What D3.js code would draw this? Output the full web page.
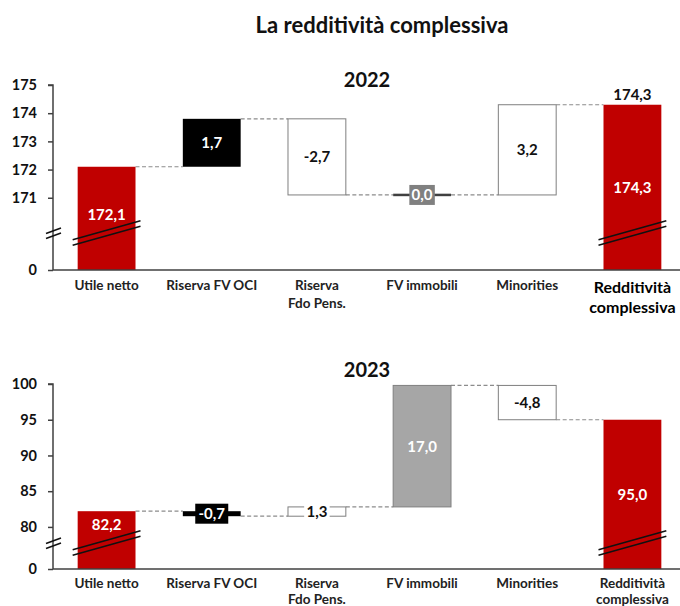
<!DOCTYPE html>
<html><head><meta charset="utf-8">
<script src="https://cdn.jsdelivr.net/npm/d3@7"></script>
<style>
body{margin:0;background:#fff;}
svg text{font-family:Lato,"Open Sans",sans-serif;font-weight:bold;}
</style></head>
<body><svg id="c" width="680" height="606"></svg>
<script>
const categories = ["Utile netto","Riserva FV OCI","Riserva|Fdo Pens.","FV immobili","Minorities","Redditività|complessiva"];
const kinds = ["total","oci","delta","immobili","delta","total"];
const values2022 = [172.1, 1.7, -2.7, 0.0, 3.2, 174.3];
const values2023 = [82.2, -0.7, 1.3, 17.0, -4.8, 95.0];
const ticks2022 = [0,171,172,173,174,175];
const ticks2023 = [0,80,85,90,95,100];
const chartTitle = "La redditività complessiva";
const years = ["2022","2023"];

const svg = d3.select("#c");
const fmt = v => d3.format(".1f")(v).replace(".", ",").replace("\u2212","-");
const RED = "#c00000";

svg.append("text").attr("x",382).attr("y",33).attr("text-anchor","middle")
  .attr("font-size",22).attr("fill","#111").text(chartTitle);

const x = d3.scaleBand().domain(categories).range([54,685]).paddingInner(0.45).paddingOuter(0.225);

function drawChart(cfg){
  const g = svg.append("g");
  const values = cfg.values;
  const breakVal = cfg.breakVal;
  const y = d3.scaleLinear().domain([0, breakVal, cfg.ticks[cfg.ticks.length-1]])
    .range([cfg.zeroY, cfg.breakY, cfg.topY]);

  g.append("text").attr("x",367).attr("y",cfg.yearY).attr("text-anchor","middle")
    .attr("font-size",20).attr("fill","#111").text(cfg.year);

  const segs = [];
  let run = values[0];
  values.forEach((v,i)=>{
    if(kinds[i]==="total"){ segs.push({i,v,lo:0,hi:v,end:v}); run = v; }
    else { const s=run, e=run+v; segs.push({i,v,lo:Math.min(s,e),hi:Math.max(s,e),end:e}); run=e; }
  });

  for(let k=0;k<segs.length-1;k++){
    const lvl = segs[k].end;
    g.append("line")
      .attr("x1", x(categories[k])+x.bandwidth()).attr("x2", x(categories[k+1]))
      .attr("y1", y(lvl)).attr("y2", y(lvl))
      .attr("stroke","#8c8c8c").attr("stroke-width",1.2).attr("stroke-dasharray","4,2.5");
  }

  const ax = g.append("g").attr("transform",`translate(53,0)`)
    .call(d3.axisLeft(y).tickValues(cfg.ticks).tickSize(5).tickPadding(11).tickFormat(d3.format("d")));
  ax.select(".domain").attr("stroke","#404040").attr("stroke-width",1.5).attr("d",`M-5,${cfg.topY}H0V${cfg.zeroY}`);
  ax.selectAll(".tick line").attr("stroke","#404040").attr("stroke-width",1.5);
  ax.selectAll(".tick text").attr("font-size",14.5).attr("fill","#111").attr("font-family","Lato, sans-serif").attr("font-weight","bold");

  segs.forEach(s=>{
    const k = kinds[s.i];
    const bx = x(categories[s.i]), bw = x.bandwidth();
    let y0 = y(s.hi), h = Math.max(y(s.lo)-y(s.hi), 0);
    let fill, stroke=null;
    if(k==="total") fill = RED;
    else if(k==="oci") fill = "#000";
    else if(k==="delta"){ fill="#fff"; stroke="#7f7f7f"; }
    else { fill = (h<3) ? "#404040" : "#a6a6a6"; stroke = (h<3)? null : "#7f7f7f"; }
    if(h<2.5){ y0 = y(s.hi)-1.25; h = 2.5; }
    const r = g.append("rect").attr("x",bx).attr("y",y0).attr("width",bw).attr("height",h).attr("fill",fill);
    if(stroke) r.attr("stroke",stroke).attr("stroke-width",1);

    let ly, txtColor, boxFill=null;
    const cx = bx+bw/2;
    if(k==="total"){
      ly = Math.min((y(s.hi)+cfg.zeroY)/2, cfg.breakY-18);
      txtColor="#fff";
    } else {
      ly = (y(s.hi)+y(s.lo))/2;
      txtColor = k==="delta" ? "#111" : "#fff";
      if(h<16){ boxFill = k==="oci" ? "#000" : k==="delta" ? "#fff" : "#808080"; }
    }
    const label = fmt(s.v);
    if(boxFill){
      const w = label.length*7.5+3;
      g.append("rect").attr("x",cx-w/2).attr("y",ly-10).attr("width",w).attr("height",20).attr("fill",boxFill);
    }
    g.append("text").attr("x",cx).attr("y",ly).attr("dy","0.36em").attr("text-anchor","middle")
      .attr("font-size",15).attr("fill",txtColor).text(label);

    if(k==="total"){
      [-2.8,2.8].forEach(off=>{
        g.append("line").attr("x1",bx-5).attr("x2",bx+bw+5)
          .attr("y1",cfg.breakY+off+9.5).attr("y2",cfg.breakY+off-9.5)
          .attr("stroke","#111").attr("stroke-width",1.5);
      });
      if(s.i===categories.length-1 && cfg.topLabel){
        g.append("text").attr("x",cx).attr("y",y(s.hi)-10).attr("dy","0.36em").attr("text-anchor","middle")
          .attr("font-size",15).attr("fill","#111").text(label);
      }
    }
  });

  [-2.5,2.5].forEach(off=>{
    g.append("line").attr("x1",46).attr("x2",61)
      .attr("y1",cfg.breakY+off+3).attr("y2",cfg.breakY+off-2.5)
      .attr("stroke","#111").attr("stroke-width",1.5);
  });

  g.append("line").attr("x1",53).attr("x2",680).attr("y1",cfg.zeroY).attr("y2",cfg.zeroY)
    .attr("stroke","#404040").attr("stroke-width",1.5);

  categories.forEach((c,i)=>{
    const big = cfg.bigLast && i===categories.length-1;
    const lines = c.split("|");
    const t = g.append("text").attr("x",x(c)+x.bandwidth()/2).attr("text-anchor","middle")
      .attr("font-size", big?16:13.5).attr("fill", big?"#000":"#222");
    lines.forEach((ln,j)=>{
      t.append("tspan").attr("x",x(c)+x.bandwidth()/2)
        .attr("y", cfg.zeroY + (big?23:cfg.lab1) + j*(big?20:cfg.lineGap)).text(ln);
    });
  });
}

drawChart({values:values2022, ticks:ticks2022, year:years[0], zeroY:270, breakY:233, topY:85, breakVal:169.75, yearY:87, topLabel:true, bigLast:true, lab1:20, lineGap:18});
drawChart({values:values2023, ticks:ticks2023, year:years[1], zeroY:569, breakY:543, topY:384, breakVal:77.75, yearY:377, topLabel:false, bigLast:false, lab1:19, lineGap:15.5});
</script>
</body></html>
